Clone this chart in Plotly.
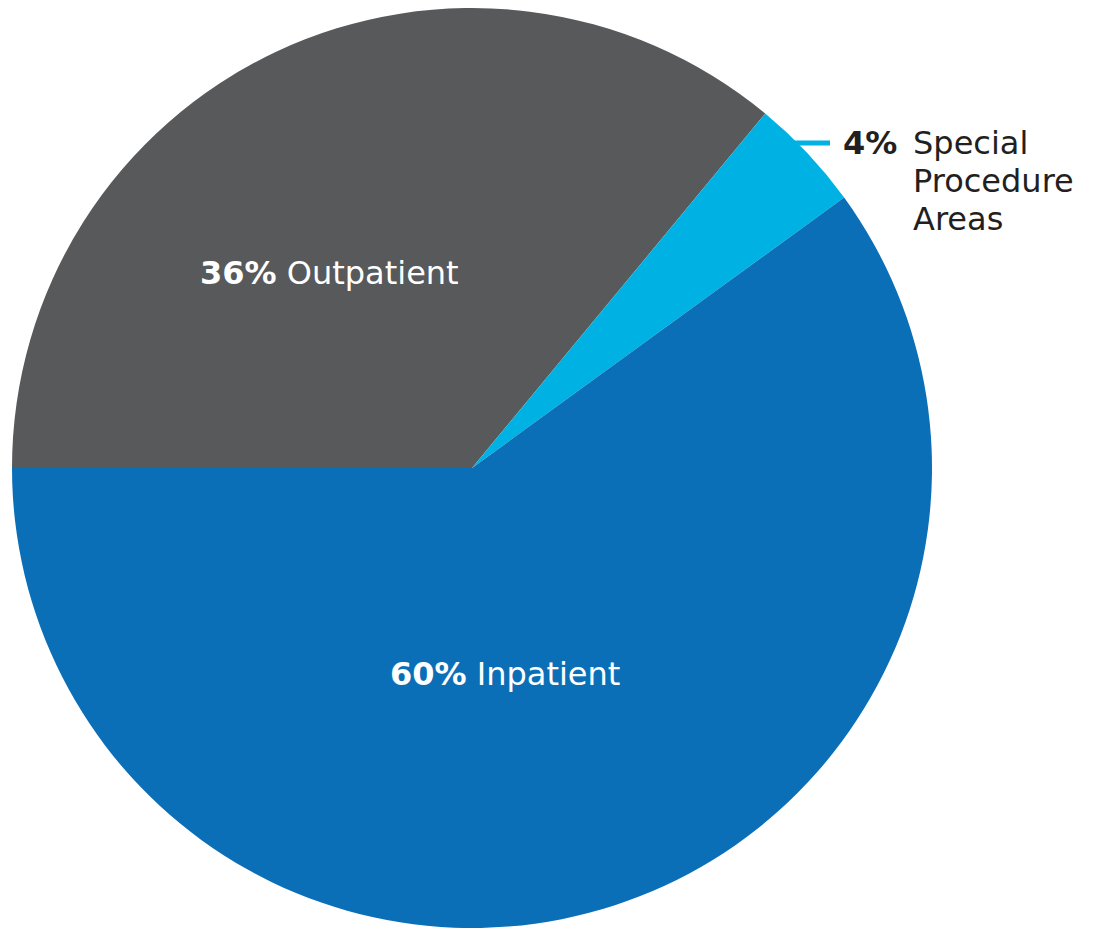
import math
import plotly.graph_objects as go

# Share of volume by care setting
categories = ["Outpatient", "Special Procedure Areas", "Inpatient"]
shares = [36, 4, 60]
label_lines = [["Outpatient"], ["Special", "Procedure", "Areas"], ["Inpatient"]]

colors = ["#58595b", "#00b2e3", "#0b6fb8"]

W, H = 1096, 928
# pie box in pixels (left, top, size)
PX_L, PX_T, SIZE = 12, 8, 920
cx, cy, R = PX_L + SIZE / 2, PX_T + SIZE / 2, SIZE / 2
START_DEG = 270  # first slice begins at 9 o'clock, running clockwise

FONT = "DejaVu Sans"
FS = 32
LINE_GAP = 38


def px(x, y):
    return x / W, 1 - y / H


fig = go.Figure(
    go.Pie(
        labels=categories,
        values=shares,
        sort=False,
        direction="clockwise",
        rotation=START_DEG,
        marker=dict(colors=colors, line=dict(width=0)),
        textinfo="none",
        hoverinfo="label+percent",
        showlegend=False,
        domain=dict(x=[PX_L / W, (PX_L + SIZE) / W], y=[1 - (PX_T + SIZE) / H, 1 - PX_T / H]),
    )
)

annotations = []

# Labels set inside the two large slices
inside_pos = {"Outpatient": (329, 273), "Inpatient": (505, 674)}
for name, val, lines in zip(categories, shares, label_lines):
    if name in inside_pos:
        x, y = px(*inside_pos[name])
        annotations.append(dict(
            x=x, y=y, xref="paper", yref="paper", xanchor="center", yanchor="middle",
            text=f"<b>{val}%</b> {' '.join(lines)}", showarrow=False,
            font=dict(family=FONT, size=FS, color="white"),
        ))

# Leader line and outside label for the small slice
idx = categories.index("Special Procedure Areas")
label_y = 143
# where the leader's row meets the rim of the pie
ex = cx + math.sqrt(R ** 2 - (cy - label_y) ** 2)
line_end = 830
fig.add_shape(type="line", xref="paper", yref="paper",
              x0=(ex - 6) / W, y0=1 - label_y / H, x1=line_end / W, y1=1 - label_y / H,
              line=dict(color=colors[idx], width=5))

x, y = px(line_end + 11, label_y)
annotations.append(dict(
    x=x, y=y, xref="paper", yref="paper", xanchor="left", yanchor="middle",
    text=f"<b>{shares[idx]}%</b>", showarrow=False,
    font=dict(family=FONT, size=FS, color="#231f20"),
))
for i, word in enumerate(label_lines[idx]):
    x, y = px(911, label_y + i * LINE_GAP)
    annotations.append(dict(
        x=x, y=y, xref="paper", yref="paper", xanchor="left", yanchor="middle",
        text=word, showarrow=False,
        font=dict(family=FONT, size=FS, color="#231f20"),
    ))

fig.update_layout(
    width=W, height=H,
    margin=dict(l=0, r=0, t=0, b=0),
    paper_bgcolor="white", plot_bgcolor="white",
    annotations=annotations,
)

fig.write_html("out.html")
